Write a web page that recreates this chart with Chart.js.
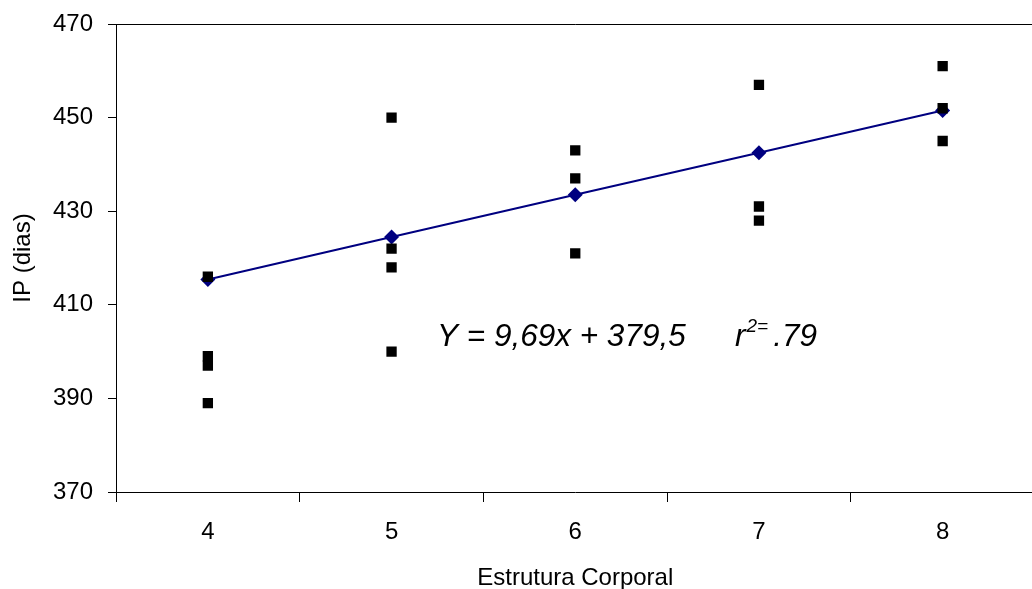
<!DOCTYPE html>
<html>
<head>
<meta charset="utf-8">
<script src="https://cdn.jsdelivr.net/npm/chart.js@4.4.0/dist/chart.umd.min.js"></script>
<style>
  html, body { margin: 0; padding: 0; background: #fff; overflow: hidden; width: 1032px; height: 589px; }
  canvas { display: block; }
</style>
</head>
<body>
<canvas id="grafico" width="1042" height="589"></canvas>
<script>
// Estrutura corporal x IP (dias)
const categorias = ['4', '5', '6', '7', '8'];

// valores observados por categoria
const ipObs4 = [416, 399, 397, 389];
const ipObs5 = [450, 422, 418, 400];
const ipObs6 = [443, 437, 421];
const ipObs7 = [457, 431, 428];
const ipObs8 = [461, 452, 445];

// reta estimada
const ipEstimado = [415.4, 424.5, 433.5, 442.5, 451.5];

const yMin = 370, yMax = 470, yPasso = 20;

const observados = [ipObs4, ipObs5, ipObs6, ipObs7, ipObs8];
const pontos = [];
categorias.forEach((c, i) => {
  observados[i].forEach(v => pontos.push({ x: c, y: v }));
});

const fonte = '"Liberation Sans", Arial, sans-serif';

// titulos e equacao
const textos = {
  id: 'textos',
  afterDraw(chart) {
    const { ctx, chartArea } = chart;
    ctx.save();
    ctx.fillStyle = '#000';
    ctx.font = '24px ' + fonte;
    ctx.textAlign = 'center';
    ctx.textBaseline = 'middle';
    ctx.fillText('Estrutura Corporal', (chartArea.left + chartArea.right) / 2, 578);

    ctx.save();
    ctx.translate(23, (chartArea.top + chartArea.bottom) / 2);
    ctx.rotate(-Math.PI / 2);
    ctx.fillText('IP (dias)', 0, 0);
    ctx.restore();

    // Y = 9,69x + 379,5   r2= .79
    ctx.textAlign = 'left';
    ctx.textBaseline = 'alphabetic';
    const base = 346;
    ctx.font = 'italic 31.5px ' + fonte;
    ctx.fillText('Y = 9,69x + 379,5', 437, base);
    let x = 735;
    ctx.fillText('r', x, base);
    x += ctx.measureText('r').width + 1;
    ctx.font = 'italic 19px ' + fonte;
    ctx.fillText('2=', x, base - 14);
    x += ctx.measureText('2=').width + 5;
    ctx.font = 'italic 31.5px ' + fonte;
    ctx.fillText('.79', x, base);
    ctx.restore();
  }
};

new Chart(document.getElementById('grafico').getContext('2d'), {
  type: 'line',
  data: {
    labels: categorias,
    datasets: [
      {
        label: 'Observado',
        data: pontos,
        showLine: false,
        pointStyle: 'rect',
        pointRadius: 7.3,
        pointHoverRadius: 7.3,
        pointBackgroundColor: '#000',
        pointBorderWidth: 0,
        order: 0
      },
      {
        label: 'Estimado',
        data: ipEstimado,
        borderColor: '#000080',
        borderWidth: 2,
        pointStyle: 'rectRot',
        pointRadius: 7.5,
        pointHoverRadius: 7.5,
        pointBackgroundColor: '#000080',
        pointBorderWidth: 0,
        tension: 0,
        order: 1
      }
    ]
  },
  options: {
    responsive: false,
    animation: false,
    layout: { padding: { top: 24, right: 0, left: 0, bottom: 0 } },
    plugins: {
      legend: { display: false },
      tooltip: { enabled: false }
    },
    scales: {
      x: {
        type: 'category',
        offset: true,
        afterFit: s => { s.height = 97; },
        grid: {
          offset: true,
          color: 'rgba(0,0,0,0)',
          tickColor: '#000',
          tickLength: 10,
          drawTicks: true
        },
        border: { display: true, color: '#000', width: 1 },
        ticks: { color: '#000', padding: 16, font: { size: 24, family: fonte } }
      },
      y: {
        min: yMin,
        max: yMax,
        afterFit: s => { s.width = 116; s.paddingTop = 0; s.paddingBottom = 0; },
        grid: {
          color: c => (c.tick && c.tick.value === yMax) ? '#000' : 'rgba(0,0,0,0)',
          tickColor: '#000',
          tickLength: 8
        },
        border: { display: true, color: '#000', width: 1 },
        ticks: { stepSize: yPasso, color: '#000', padding: 15, font: { size: 24, family: fonte } }
      }
    }
  },
  plugins: [textos]
});
</script>
</body>
</html>
